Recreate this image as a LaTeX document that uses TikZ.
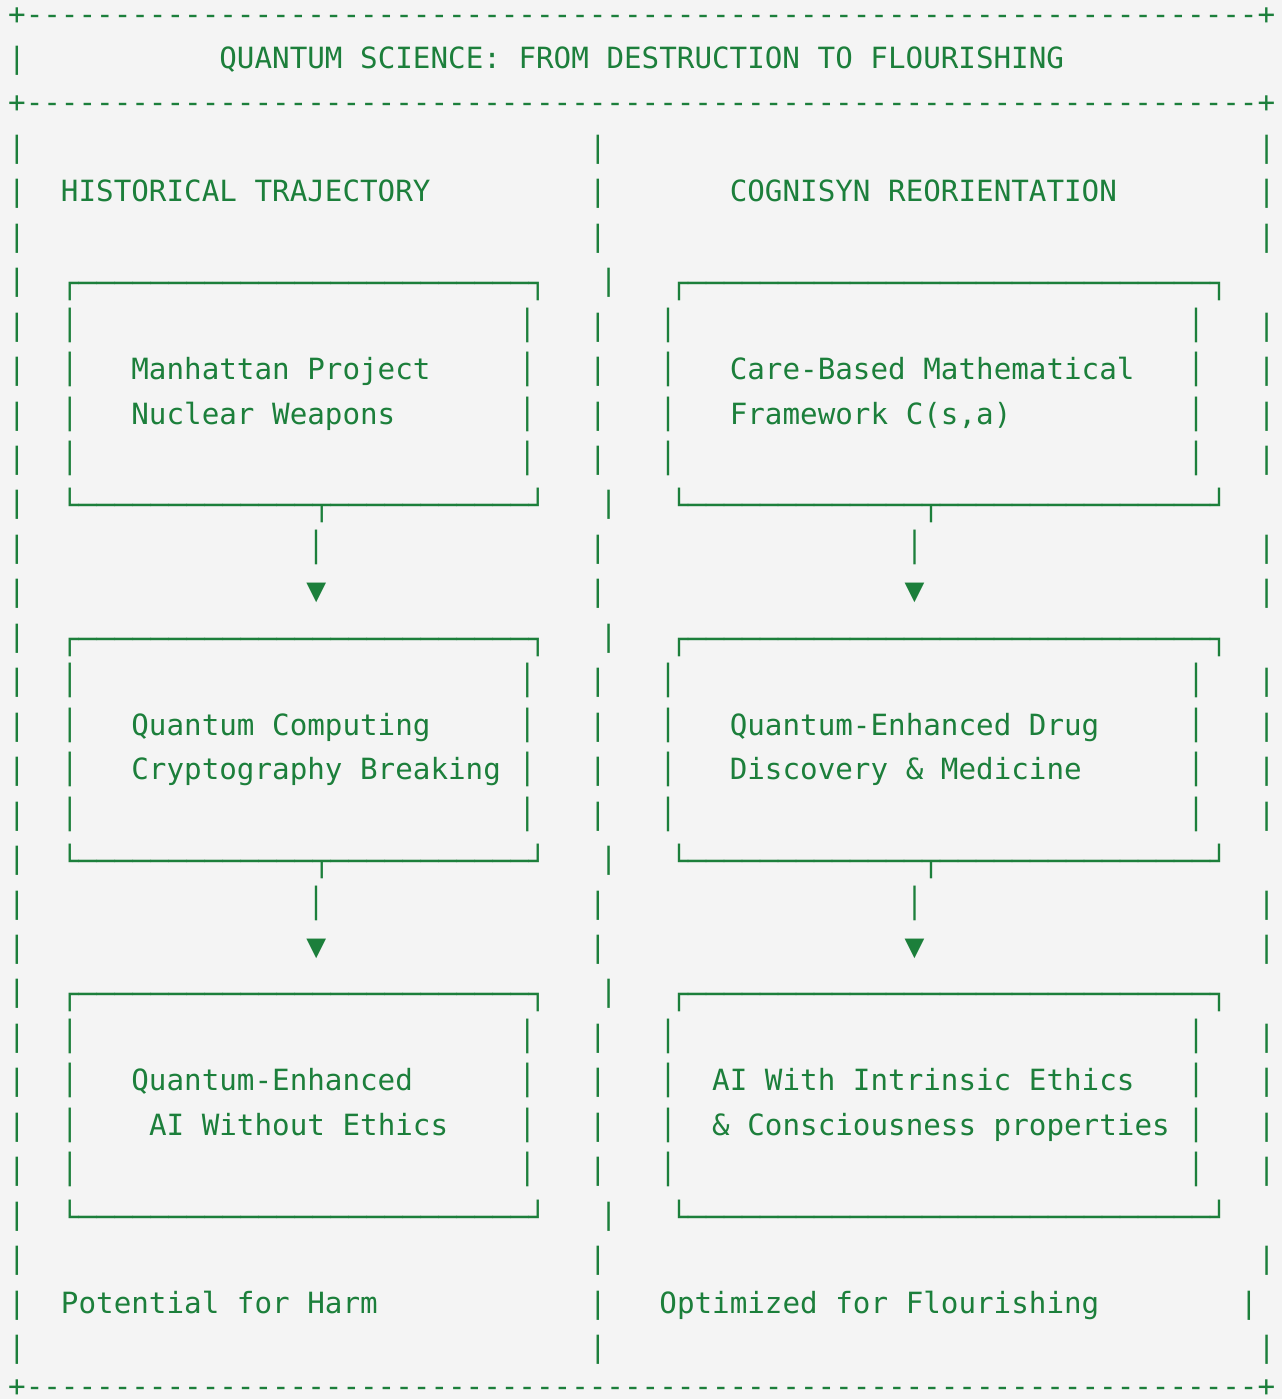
\documentclass[tikz,border=0pt]{standalone}
\usepackage{fontspec}
\setmonofont{DejaVu Sans Mono}
% box-drawing glyphs are set a little wider than the text grid
\newfontfamily\boxfam{DejaVu Sans Mono}[FakeStretch=1.0227]
\definecolor{ink}{HTML}{1C7F3B}
\definecolor{paper}{HTML}{F4F4F4}
\ExplSyntaxOn
\cs_new:Npn \Repl #1#2 { \prg_replicate:nn {#1} {#2} }
\ExplSyntaxOff
\newcommand\gridfnt{\ttfamily\fontsize{14.615pt}{14.615pt}\selectfont}
\newcommand\boxfnt{\boxfam\fontsize{14.615pt}{14.615pt}\selectfont}
\newcommand\tipfnt{\ttfamily\fontsize{16.5pt}{16.5pt}\selectfont}
\tikzset{
  ch/.style={inner sep=0pt, outer sep=0pt, text=ink, font=\gridfnt, anchor=base west},
  bar/.style={ch, anchor=base},
  bxl/.style={ch, font=\boxfnt, yshift=-1.5pt},
  bxbar/.style={ch, font=\boxfnt, anchor=base},
  tip/.style={ch, font=\tipfnt, anchor=base},
}
\begin{document}
\begin{tikzpicture}
\useasboundingbox[fill=paper] (0pt,0pt) rectangle (641pt,-699.5pt);
% one unit = one character cell; (c,k) = left edge of column c on the baseline of row k
\begin{scope}[x=8.8pt, y=-22.225pt, shift={(4.1pt,-12pt)}]

% outer frame rules
\foreach \k in {0,2,30.87}
  \node[ch] (rule\k) at (0,\k) {+\Repl{70}{-}+};
\node[ch] (title) at (12,1) {QUANTUM SCIENCE: FROM DESTRUCTION TO FLOURISHING};

% outer frame sides and centre divider
\foreach \k in {1,3,4,5,6,7,8,9,10,11,12,13,14,15,16,17,18,19,20,21,22,23,24,25,26,27,28,29,30}
  \node[bar] (lb\k) at (0.5,\k) {|};
\foreach \k in {3,4,5,7,8,9,10,12,13,15,16,17,18,20,21,23,24,25,26,28,29,30}
  \node[bar] (mb\k) at (33.5,\k) {|};
\foreach \k in {6,11,14,19,22,27}
  \node[bar] (mb\k) at (34.114,\k) {|};
\foreach \k in {3,4,5,7,8,9,10,12,13,15,16,17,18,20,21,23,24,25,26,28,30}
  \node[bar] (rb\k) at (71.5,\k) {|};
\node[bar] (rb29) at (70.5,29) {|};

% column headings
\node[ch] (histhead) at (3,4) {HISTORICAL TRAJECTORY};
\node[ch] (coghead) at (41,4) {COGNISYN REORIENTATION};

% box tops
\foreach \k in {6,14,22} {
  \node[bxl] (tl\k) at (3,\k) {┌\Repl{25}{─}┐};
  \node[bxl] (tr\k) at (37.614,\k) {┌\Repl{29}{─}┐};
}
% box bottoms with outgoing stems
\foreach \k in {11,19} {
  \node[bxl] (bl\k) at (3,\k) {└\Repl{13}{─}┬\Repl{11}{─}┘};
  \node[bxl] (br\k) at (37.614,\k) {└\Repl{13}{─}┬\Repl{15}{─}┘};
}
\node[bxl] (bl27) at (3,27) {└\Repl{25}{─}┘};
\node[bxl] (br27) at (37.614,27) {└\Repl{29}{─}┘};

% box sides
\foreach \k in {7,8,9,10,15,16,17,18,23,24,25,26} {
  \node[bxbar] (sa\k) at (3.5,\k) {│};
  \node[bxbar] (sb\k) at (29.5,\k) {│};
  \node[bxbar] (sc\k) at (37.5,\k) {│};
  \node[bxbar] (sd\k) at (67.5,\k) {│};
}

% arrows between boxes
\foreach \k in {12,20} {
  \node[bxbar] (stl\k) at (17.5,\k) {│};
  \node[bxbar] (str\k) at (51.5,\k) {│};
}
\foreach \k in {13,21} {
  \node[tip] (hdl\k) at (17.5,\k) {▼};
  \node[tip] (hdr\k) at (51.5,\k) {▼};
}

% box contents
\node[ch] (ha1) at (7,8) {Manhattan Project};
\node[ch] (ha2) at (7,9) {Nuclear Weapons};
\node[ch] (hb1) at (7,16) {Quantum Computing};
\node[ch] (hb2) at (7,17) {Cryptography Breaking};
\node[ch] (hc1) at (7,24) {Quantum-Enhanced};
\node[ch] (hc2) at (8,25) {AI Without Ethics};
\node[ch] (ca1) at (41,8) {Care-Based Mathematical};
\node[ch] (ca2) at (41,9) {Framework C(s,a)};
\node[ch] (cb1) at (41,16) {Quantum-Enhanced Drug};
\node[ch] (cb2) at (41,17) {Discovery \& Medicine};
\node[ch] (cc1) at (40,24) {AI With Intrinsic Ethics};
\node[ch] (cc2) at (40,25) {\& Consciousness properties};

% column footers
\node[ch] (histfoot) at (3,29) {Potential for Harm};
\node[ch] (cogfoot) at (37,29) {Optimized for Flourishing};
\end{scope}
\end{tikzpicture}
\end{document}
